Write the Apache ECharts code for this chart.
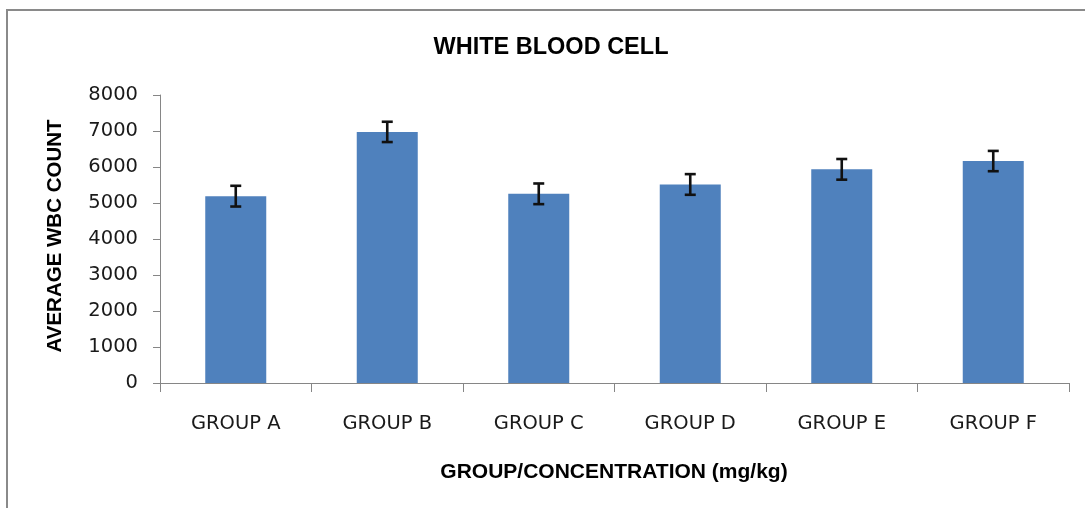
<!DOCTYPE html>
<html>
<head>
<meta charset="utf-8">
<script src="https://cdn.jsdelivr.net/npm/echarts@6/dist/echarts.min.js"></script>
<style>
html,body{margin:0;padding:0;background:#fff;}
#chart{width:1085px;height:508px;}
</style>
</head>
<body>
<div id="chart"></div>
<script>
var categories = ['GROUP A', 'GROUP B', 'GROUP C', 'GROUP D', 'GROUP E', 'GROUP F'];
var wbcMeans = [5190, 6975, 5255, 5515, 5935, 6165];
var wbcErrors = [288, 282, 287, 287, 287, 282];
var yTicks = { min: 0, max: 8000, interval: 1000 };
var chartTitle = 'WHITE BLOOD CELL';
var xTitle = 'GROUP/CONCENTRATION (mg/kg)';
var yTitle = 'AVERAGE WBC COUNT';

var errorData = categories.map(function (c, i) {
  return [i, wbcMeans[i] - wbcErrors[i], wbcMeans[i] + wbcErrors[i]];
});

var chart = echarts.init(document.getElementById('chart'), null, { renderer: 'canvas' });
var titleFont = '"Liberation Sans", Arial, sans-serif';
var labelFont = '"DejaVu Sans", sans-serif';

chart.setOption({
  animation: false,
  backgroundColor: '#ffffff',
  grid: { left: 160, top: 95, right: 16, bottom: 125, containLabel: false },
  xAxis: {
    type: 'category',
    data: categories,
    axisLine: { show: true, lineStyle: { color: '#868686', width: 1 } },
    axisTick: { show: true, alignWithLabel: false, length: 9, lineStyle: { color: '#868686' } },
    axisLabel: { margin: 31, color: '#1a1a1a', fontFamily: labelFont, fontSize: 19.5 },
    splitLine: { show: false }
  },
  yAxis: {
    type: 'value',
    min: yTicks.min,
    max: yTicks.max,
    interval: yTicks.interval,
    axisLine: { show: true, lineStyle: { color: '#868686', width: 1 } },
    axisTick: { show: true, length: 7, lineStyle: { color: '#868686' } },
    axisLabel: {
      margin: 22, color: '#1a1a1a', fontFamily: labelFont, fontSize: 19.5,
      formatter: function (v) { return String(v); }
    },
    splitLine: { show: false }
  },
  series: [
    {
      type: 'bar',
      data: wbcMeans,
      barWidth: 61,
      itemStyle: { color: '#4F81BD' },
      z: 2
    },
    {
      type: 'custom',
      data: errorData,
      z: 5,
      renderItem: function (params, api) {
        var x = api.value(0);
        var lo = api.coord([x, api.value(1)]);
        var hi = api.coord([x, api.value(2)]);
        var hw = 5.5;
        var st = { stroke: '#111111', lineWidth: 2.6 };
        return {
          type: 'group',
          children: [
            { type: 'line', shape: { x1: hi[0], y1: hi[1], x2: lo[0], y2: lo[1] }, style: st },
            { type: 'line', shape: { x1: hi[0] - hw, y1: hi[1], x2: hi[0] + hw, y2: hi[1] }, style: st },
            { type: 'line', shape: { x1: lo[0] - hw, y1: lo[1], x2: lo[0] + hw, y2: lo[1] }, style: st }
          ]
        };
      }
    }
  ],
  graphic: [
    {
      type: 'rect',
      shape: { x: 7, y: 10, width: 1200, height: 700 },
      style: { fill: 'none', stroke: '#8a8a8a', lineWidth: 2 },
      silent: true
    },
    {
      type: 'text',
      x: 551, y: 48,
      style: { text: chartTitle, font: 'bold 23.5px ' + titleFont, fill: '#000', textAlign: 'center', textVerticalAlign: 'middle' }
    },
    {
      type: 'text',
      x: 614, y: 472,
      style: { text: xTitle, font: 'bold 21px ' + titleFont, fill: '#000', textAlign: 'center', textVerticalAlign: 'middle' }
    },
    {
      type: 'text',
      x: 55, y: 236,
      rotation: Math.PI / 2,
      style: { text: yTitle, font: 'bold 20.5px ' + titleFont, fill: '#000', textAlign: 'center', textVerticalAlign: 'middle' }
    }
  ]
});
</script>
</body>
</html>
